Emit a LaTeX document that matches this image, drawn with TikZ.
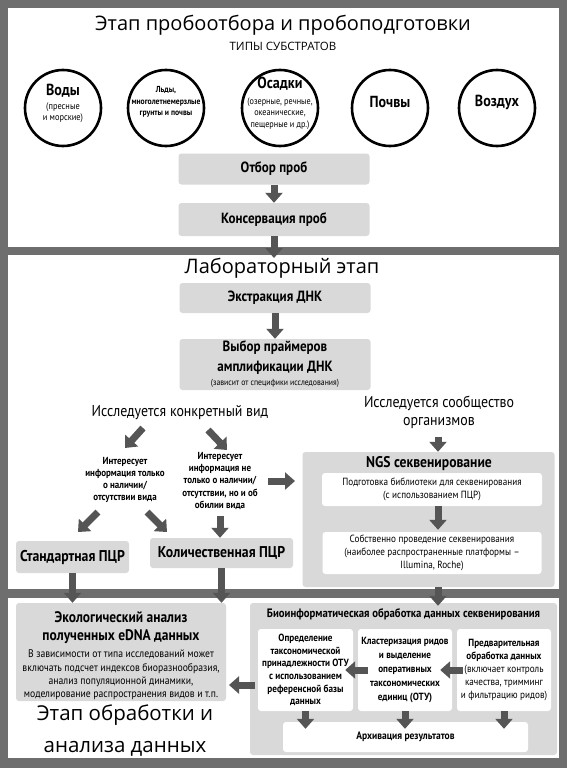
\documentclass[tikz,border=0pt]{standalone}
\usepackage{fontspec}
\setmainfont{PT Sans}
\newfontfamily\condf{PT Sans}[FakeStretch=0.88]
\newfontfamily\titlef{Open Sans}
\usetikzlibrary{positioning,arrows.meta}
\definecolor{bandgray}{HTML}{6E6E6E}
\definecolor{arrowgray}{HTML}{555555}
\definecolor{boxgray}{HTML}{D9D9D9}
\newcommand{\fsz}[2]{\fontsize{#1}{#2}\selectfont}

\begin{document}
\begin{tikzpicture}[ x=1pt , y=-1pt , node distance =50pt , on grid ,
  box/.style = { fill=boxgray , rounded corners=3pt , align=center , inner sep=0pt , font=\condf\bfseries\fsz{14.8}{17} } ,
  wbox/.style = { fill=white , rounded corners=3pt , align=center , inner sep=0pt , font=\condf\fsz{10.4}{13.5} } ,
  sub/.style = { circle , draw=black , line width=2.6pt , minimum size=76pt , inner sep=0pt } ,
  subtxt/.style = { align=center , inner sep=0pt , font=\condf\bfseries\fsz{16}{17} } ,
  note/.style = { align=center , inner sep=0pt , font=\condf\bfseries\fsz{10.2}{12.3} } ,
  blk/.style = { draw=arrowgray , line width=7pt , -{Triangle[width=17pt,length=10pt]} } ,
  ttl/.style = { font=\titlef\fsz{20}{24} } ]
\fill [ bandgray ] (0,0) rectangle (567,768);
\fill [ white ] (8,8) rectangle (559,247);
\fill [ white ] (8,255) rectangle (559,589);
\fill [ white ] (8,598) rectangle (559,758);

% sampling
\node [ ttl ] (stage1) at (283,25) {Этап пробоотбора и пробоподготовки};
\node [ font=\titlef\fsz{11.5}{14} ] (types) at (283,46) {ТИПЫ СУБСТРАТОВ};
\node [ sub ] (water) at (63,108) {};
\node [ sub ] (ice) at (166,108) {};
\node [ sub ] (sed) at (280,108) {};
\node [ sub ] (soil) at (390,108) {};
\node [ sub ] (air) at (497,108) {};
\node [ subtxt , font=\condf\fsz{9.5}{11} ] (waterT) at ([yshift=5pt]water.center) {{\bfseries\fsz{16}{17}Воды}\\[3pt](пресные\\и морские)};
\node [ subtxt , font=\condf\bfseries\fsz{8.7}{11.5} ] (iceT) at ([yshift=6pt]ice.center) {Льды,\\многолетнемерзлые\\грунты и почвы};
\node [ subtxt , font=\condf\fsz{9.3}{11.3} ] (sedT) at ([yshift=5pt]sed.center) {{\bfseries\fsz{16}{17}Осадки}\\[5pt](озерные, речные,\\океанические,\\пещерные и др.)};
\node [ subtxt ] (soilT) at ([yshift=6pt]soil.center) {Почвы};
\node [ subtxt ] (airT) at ([yshift=6pt]air.center) {Воздух};
\node [ box , minimum width=191pt , minimum height=31pt ] (otbor) at (274,169) {Отбор проб};
\node [ box , minimum width=191pt , minimum height=33pt ] (konserv) [ below = 50.5pt of otbor ] {Консервация проб};
\coordinate (labin) at (274,258);
\draw [ blk ] (otbor) -- (konserv);
\draw [ blk ] (konserv) -- (labin);

% lab
\node [ ttl ] (stage2) at (282,268) {Лабораторный этап};
\node [ box , minimum width=191pt , minimum height=30pt ] (ekstr) at (275,298) {Экстракция ДНК};
\node [ box , minimum width=191pt , minimum height=51pt , font=\condf\bfseries\fsz{14.8}{20} ] (vybor) [ below = 66.5pt of ekstr ] {Выбор праймеров\\амплификации ДНК\\[-6pt]{\mdseries\fsz{8.8}{9}(зависит от специфики исследования)}};
\draw [ blk ] (ekstr) -- (vybor);
\node [ font=\condf\fsz{15.8}{16} ] (vid) at (180,413) {Исследуется конкретный вид};
\node [ font=\condf\fsz{15.8}{18} , align=center ] (soob) at (439,412) {Исследуется сообщество\\организмов};
\node [ note ] (only) at (125,480) {Интересует\\информация только\\о наличии/\\отсутствии вида};
\node [ note ] (notonly) at (220,481) {Интересует\\информация не\\только о наличии/\\отсутствии, но и об\\обилии вида};
\coordinate (d1a) at (143,428); \coordinate (d1b) at (125,448);
\coordinate (d2a) at (208,430); \coordinate (d2b) at (227,450);
\coordinate (d3a) at (98,512);  \coordinate (d3b) at (78,532);
\coordinate (d4a) at (147,512); \coordinate (d4b) at (167,532);
\coordinate (r1a) at (268,481); \coordinate (r1b) at (295,481);
\foreach \a/\b in {d1a/d1b,d2a/d2b,d3a/d3b,d4a/d4b,r1a/r1b}
  \draw [ blk ] (\a) -- (\b);
\node [ box , minimum width=113pt , minimum height=32pt , font=\condf\bfseries\fsz{15.6}{17} ] (std) at (72.5,557) {Стандартная ПЦР};
\node [ box , minimum width=143pt , minimum height=30pt , font=\condf\bfseries\fsz{15.6}{17} ] (kol) at (221.5,553) {Количественная ПЦР};
\draw [ blk ] ([yshift=-6pt]notonly.south) -- (notonly.south |- kol.north);
\node [ box , minimum width=252pt , minimum height=135pt ] (ngs) at (428.5,519.5) {};
\node [ font=\condf\bfseries\fsz{15.5}{17} ] (ngstitle) at (429,464) {NGS секвенирование};
\node [ wbox , minimum width=220pt , minimum height=33pt ] (ngs1) at (432,489.5) {Подготовка библиотеки для секвенирования\\(с использованием ПЦР)};
\node [ wbox , minimum width=219pt , minimum height=42pt , font=\condf\fsz{10.4}{13} ] (ngs2) at (432,553) {Собственно проведение секвенирования\\(наиболее распространенные платформы –\\Illumina, Roche)};
\coordinate (ax) at (438,0);
\draw [ blk ] ([yshift=-5pt]soob.south -| ax) -- (ngs.north -| ax);
\draw [ blk ] (ngs1.south -| ax) -- ([yshift=2pt]ngs2.north -| ax);

% data analysis
\node [ box , minimum width=210pt , minimum height=98pt ] (eco) at (121,652) {};
\node [ font=\condf\bfseries\fsz{15.3}{18} , align=center ] (ecotitle) at (121,628) {Экологический анализ\\полученных eDNA данных};
\node [ font=\condf\fsz{11}{13.3} , align=center ] (ecotext) at (121,675) {В зависимости от типа исследований может\\включать подсчет индексов биоразнообразия,\\анализ популяционной динамики,\\моделирование распространения видов и т.п.};
\node [ font=\titlef\fsz{20.5}{32} , align=center ] (stage3) at (125,731) {Этап обработки и\\анализа данных};
\node [ box , minimum width=307pt , minimum height=152pt ] (bioinf) at (403.5,679) {};
\node [ font=\condf\bfseries\fsz{12.2}{13} ] (biotitle) at (403.5,614) {Биоинформатическая обработка данных секвенирования};
\node [ wbox , minimum width=95pt , minimum height=82pt , font=\condf\bfseries\fsz{10.4}{12.6} ] (opr) at (305.5,670) {Определение\\таксономической\\принадлежности ОТУ\\с использованием\\референсной базы\\данных};
\node [ wbox , minimum width=94pt , minimum height=82pt , font=\condf\bfseries\fsz{10.4}{13.8} ] (klast) at (405,670) {Кластеризация ридов\\и выделение\\оперативных\\таксономических\\единиц (ОТУ)};
\node [ wbox , minimum width=94pt , minimum height=82pt , font=\condf\fsz{10.4}{13.2} ] (pred) at (504,670) {{\bfseries Предварительная}\\{\bfseries обработка данных}\\(включает контроль\\качества, тримминг\\и фильтрацию ридов)};
\node [ wbox , minimum width=245pt , minimum height=30pt , font=\condf\bfseries\fsz{10.8}{12} ] (arch) at (405.5,737) {Архивация результатов};
\coordinate (l1a) at (255,685); \coordinate (l1b) at (229,685);
\draw [ blk ] (l1a) -- (l1b);
\draw [ blk ] ([xshift=10pt]klast.west) -- ([xshift=-8pt]opr.east);
\draw [ blk ] ([xshift=6pt]pred.west) -- ([xshift=-12pt]klast.east);
\foreach \b in {opr,klast,pred}
  \draw [ blk ] (\b.south) -- ([yshift=-7pt]\b.south |- arch.north);
\draw [ blk ] (std) -- (std.south |- eco.north);
\draw [ blk ] (kol) -- (kol.south |- eco.north);
\draw [ blk ] (ngs.south -| ax) -- ([yshift=-3pt]bioinf.north -| ax);
\end{tikzpicture}
\end{document}
